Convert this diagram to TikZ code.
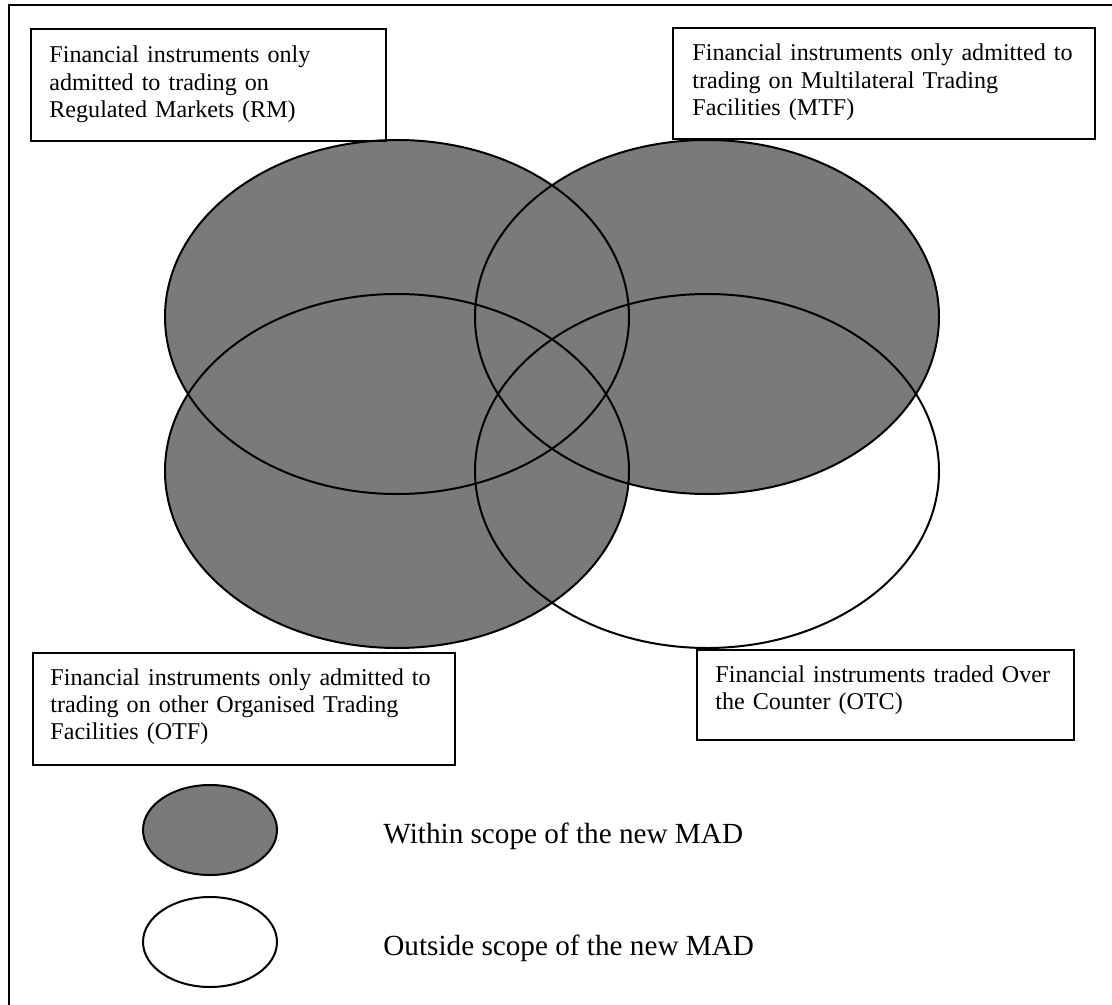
\documentclass[tikz,border=0pt]{standalone}
\usepackage{fontspec}
\setmainfont{Liberation Serif}
\usetikzlibrary{shapes.geometric,backgrounds}
\begin{document}
\begin{tikzpicture}[x=0.5pt,y=-0.5pt,
  vennline/.style={ellipse,draw=black,line width=1pt,inner sep=0pt,minimum width=232pt,minimum height=177pt},
  vennfill/.style={fill=black!52},
  framebox/.style={rectangle,draw=black,line width=1pt,inner sep=0pt,anchor=north west},
  boxtext/.style={anchor=base west,inner sep=0pt,align=left,text width=220pt,font=\fontsize{12.05}{13.7}\selectfont},
  legendtext/.style={anchor=base west,inner sep=0pt,font=\fontsize{14.6}{16}\selectfont},
  legendell/.style={ellipse,draw=black,line width=1pt,inner sep=0pt,minimum width=67pt,minimum height=45pt}]
\useasboundingbox (0,0) rectangle (1112,1005);
\draw[line width=1pt] (9,1005) -- (9,5) -- (1112,5);
% Venn ellipses (outlines)
\node[vennline] (rm)  at (397,317) {};
\node[vennline] (mtf) at (707,317) {};
\node[vennline] (otf) at (397,471) {};
\node[vennline] (otc) at (707,471) {};
\begin{scope}[on background layer]
  \fill[vennfill] (rm.center)  ellipse [x radius=232, y radius=177];
  \fill[vennfill] (mtf.center) ellipse [x radius=232, y radius=177];
  \fill[vennfill] (otf.center) ellipse [x radius=232, y radius=177];
\end{scope}
% label boxes
\node[framebox,minimum width=177.5pt,minimum height=56pt] (b1) at (30,28) {};
\node[framebox,minimum width=211pt,minimum height=55.5pt] (b2) at (672,27) {};
\node[framebox,minimum width=211pt,minimum height=56pt] (b3) at (32,652) {};
\node[framebox,minimum width=188.5pt,minimum height=45pt] (b4) at (696,649) {};
\node[boxtext] (t1) at (49,63) {Financial instruments only\\admitted to trading on\\Regulated Markets (RM)};
\node[boxtext] (t2) at (692,61) {Financial instruments only admitted to\\trading on Multilateral Trading\\Facilities (MTF)};
\node[boxtext] (t3) at (50,685) {Financial instruments only admitted to\\trading on other Organised Trading\\Facilities (OTF)};
\node[boxtext] (t4) at (715,682) {Financial instruments traded Over\\the Counter (OTC)};
% legend
\node[legendell,fill=black!52] (lin) at (210,830) {};
\node[legendell] (lout) at (210,942) {};
\node[legendtext] (win) at (383,843) {Within scope of the new MAD};
\node[legendtext] (wout) at (383,955) {Outside scope of the new MAD};
\end{tikzpicture}
\end{document}
